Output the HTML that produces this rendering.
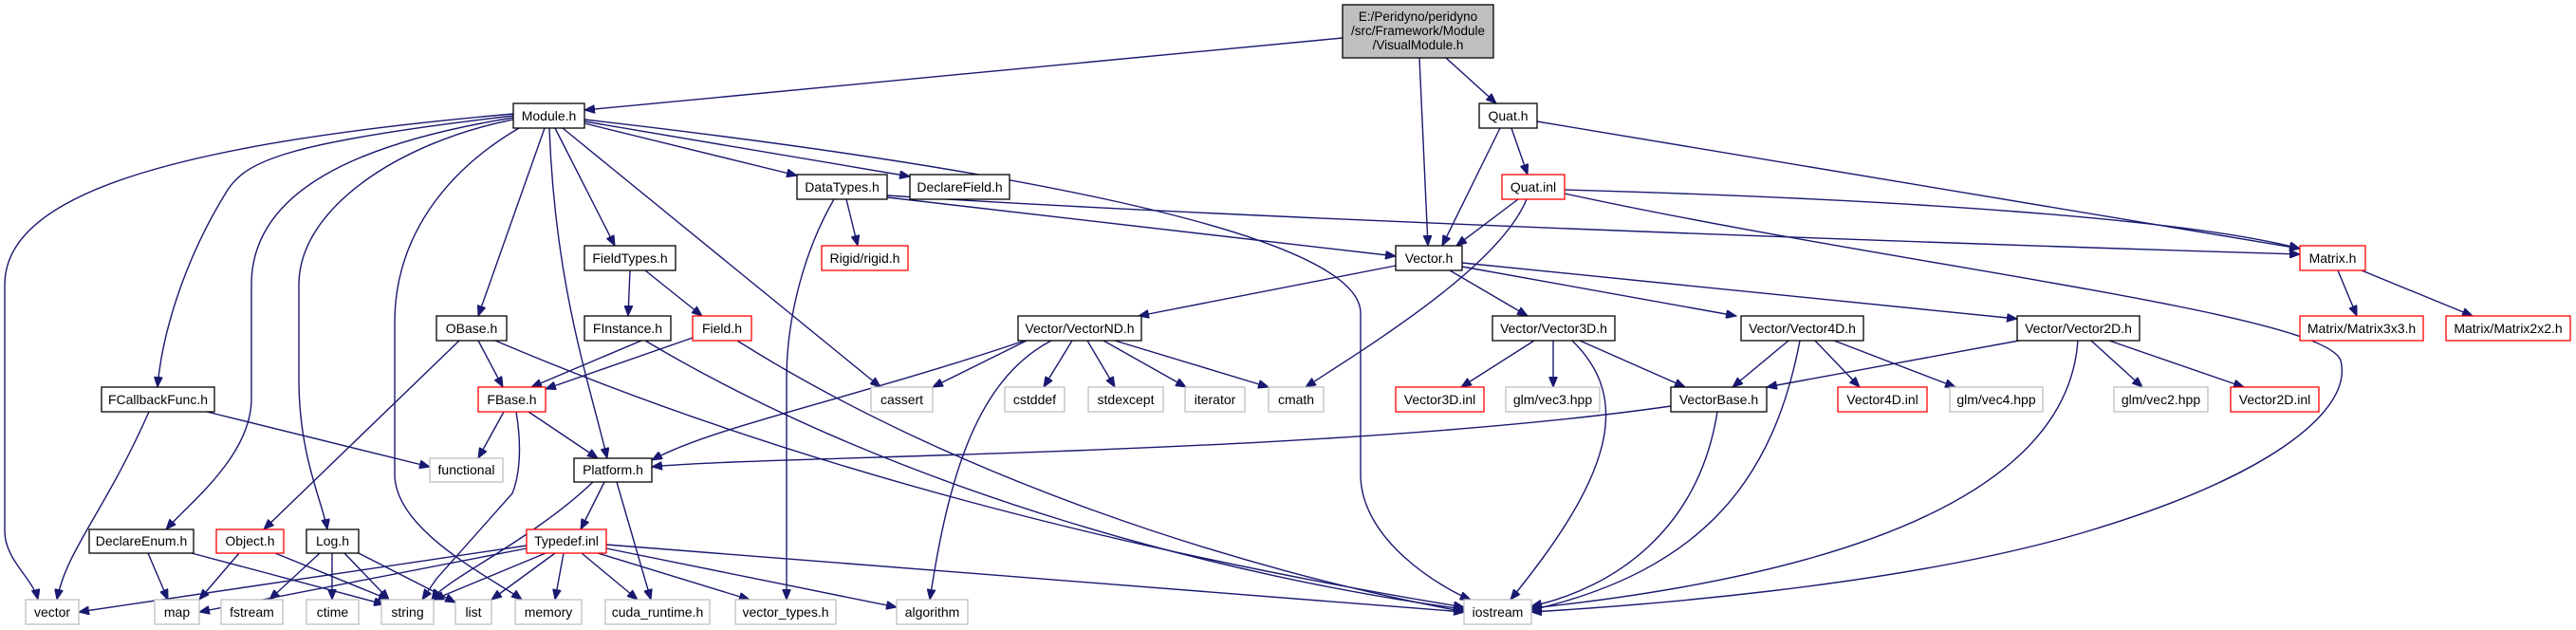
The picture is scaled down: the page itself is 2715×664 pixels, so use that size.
<!DOCTYPE html>
<html><head><meta charset="utf-8"><style>
html,body{margin:0;padding:0;background:#fff;}
svg{display:block;}
text{font-family:"Liberation Sans",Arial,sans-serif;font-size:14px;fill:#000;}
.e{fill:none;stroke:#191970;stroke-width:1.4;marker-end:url(#a);}
.b{fill:#fff;stroke:#000;stroke-width:1.3;}
.r{fill:#fff;stroke:#ff0000;stroke-width:1.3;}
.g{fill:#fff;stroke:#bfbfbf;stroke-width:1.3;}
</style></head><body>
<svg width="2715" height="664" viewBox="0 0 2715 664" xmlns="http://www.w3.org/2000/svg">
<defs><marker id="a" markerUnits="userSpaceOnUse" markerWidth="12" markerHeight="9" refX="11" refY="4.5" orient="auto"><path d="M0,0 L11,4.5 L0,9 z" fill="#191970" stroke="#191970"/></marker></defs>

<path class="e" d="M1415,40 L616,116"/>
<path class="e" d="M1496,61 L1505,259"/>
<path class="e" d="M1524,61 L1577,109"/>
<path class="e" d="M541,120 C200,150 5,200 5,300 L5,560 C5,590 35,610 40,632"/>
<path class="e" d="M541,122 C300,150 260,170 240,200 C190,280 170,360 166,408"/>
<path class="e" d="M541,124 C380,150 265,200 265,300 L265,420 C265,480 200,530 175,558"/>
<path class="e" d="M541,126 C420,150 315,220 315,300 L315,400 C315,480 340,530 345,558"/>
<path class="e" d="M547,135 C470,180 416,250 416,340 L416,500 C416,560 520,610 550,632"/>
<path class="e" d="M574,135 L504,333"/>
<path class="e" d="M579,135 C585,300 620,400 640,483"/>
<path class="e" d="M585,135 L648,259"/>
<path class="e" d="M593,135 L928,408"/>
<path class="e" d="M616,130 L840,185"/>
<path class="e" d="M616,128 L959,186"/>
<path class="e" d="M616,126 C1000,170 1434,240 1434,330 L1434,500 C1434,570 1520,620 1550,632"/>
<path class="e" d="M892,210 L904,259"/>
<path class="e" d="M879,210 C850,260 829,330 829,400 L829,632"/>
<path class="e" d="M935,208 L1471,270"/>
<path class="e" d="M935,206 C1300,230 2000,255 2424,268"/>
<path class="e" d="M1581,135 L1520,259"/>
<path class="e" d="M1593,135 L1610,184"/>
<path class="e" d="M1620,128 L2424,262"/>
<path class="e" d="M1600,210 L1535,259"/>
<path class="e" d="M1649,200 C2000,210 2300,230 2424,262"/>
<path class="e" d="M1609,210 C1580,280 1450,360 1376,408"/>
<path class="e" d="M1649,204 C2000,280 2450,330 2467,380 C2480,430 2400,500 2200,560 C2000,620 1700,640 1614,645"/>
<path class="e" d="M1471,280 L1200,333"/>
<path class="e" d="M1528,285 L1610,333"/>
<path class="e" d="M1541,281 L1830,333"/>
<path class="e" d="M1541,277 L2126,336"/>
<path class="e" d="M2464,285 L2484,333"/>
<path class="e" d="M2489,285 L2606,333"/>
<path class="e" d="M664,285 L662,333"/>
<path class="e" d="M680,285 L740,333"/>
<path class="e" d="M504,359 L530,408"/>
<path class="e" d="M484,359 L278,558"/>
<path class="e" d="M522,359 C900,520 1300,600 1543,640"/>
<path class="e" d="M676,359 L560,408"/>
<path class="e" d="M680,359 C950,520 1300,610 1543,642"/>
<path class="e" d="M730,356 L575,410"/>
<path class="e" d="M777,359 C1000,500 1300,600 1545,645"/>
<path class="e" d="M531,434 L504,483"/>
<path class="e" d="M557,434 L630,483"/>
<path class="e" d="M544,434 C550,470 548,500 540,520 L460,610 L445,632"/>
<path class="e" d="M218,434 L453,492"/>
<path class="e" d="M157,434 C110,540 70,580 60,632"/>
<path class="e" d="M637,508 L612,558"/>
<path class="e" d="M625,508 C560,570 470,610 455,632"/>
<path class="e" d="M650,508 L686,632"/>
<path class="e" d="M1080,359 C900,420 750,450 687,485"/>
<path class="e" d="M1082,359 L983,408"/>
<path class="e" d="M1108,359 C1030,400 1000,500 980,632"/>
<path class="e" d="M1130,359 L1100,408"/>
<path class="e" d="M1146,359 L1175,408"/>
<path class="e" d="M1163,359 L1250,408"/>
<path class="e" d="M1175,359 L1337,408"/>
<path class="e" d="M1617,359 L1540,408"/>
<path class="e" d="M1637,359 L1637,408"/>
<path class="e" d="M1665,359 L1776,408"/>
<path class="e" d="M1657,359 C1720,420 1700,500 1592,632"/>
<path class="e" d="M1885,359 L1826,408"/>
<path class="e" d="M1913,359 L1960,408"/>
<path class="e" d="M1933,359 L2061,408"/>
<path class="e" d="M1897,359 C1870,500 1800,600 1614,643"/>
<path class="e" d="M2128,359 L1862,408"/>
<path class="e" d="M2204,359 L2258,408"/>
<path class="e" d="M2223,359 L2365,408"/>
<path class="e" d="M2190,359 C2180,500 2000,600 1614,641"/>
<path class="e" d="M1761,428 C1400,480 800,480 687,492"/>
<path class="e" d="M1810,434 C1790,560 1700,620 1614,639"/>
<path class="e" d="M555,575 L83,645"/>
<path class="e" d="M555,578 L210,645"/>
<path class="e" d="M575,583 L457,632"/>
<path class="e" d="M585,583 L518,632"/>
<path class="e" d="M594,583 L585,632"/>
<path class="e" d="M613,583 L672,632"/>
<path class="e" d="M630,583 L790,632"/>
<path class="e" d="M639,578 L945,640"/>
<path class="e" d="M639,574 L1543,645"/>
<path class="e" d="M156,583 L177,632"/>
<path class="e" d="M202,583 L405,637"/>
<path class="e" d="M252,583 L210,632"/>
<path class="e" d="M290,583 L410,632"/>
<path class="e" d="M337,583 L284,632"/>
<path class="e" d="M350,583 L350,632"/>
<path class="e" d="M363,583 L410,632"/>
<path class="e" d="M378,583 L480,635"/>

<rect x="1415" y="5" width="159" height="56" fill="#bfbfbf" stroke="#000" stroke-width="1.3"/>
<g text-anchor="middle" style="font-size:13.5px">
<text x="1494.5" y="22" style="font-size:13.5px">E:/Peridyno/peridyno</text>
<text x="1494.5" y="37" style="font-size:13.5px">/src/Framework/Module</text>
<text x="1494.5" y="52" style="font-size:13.5px">/VisualModule.h</text>
</g>

<g text-anchor="middle">
<rect class="b" x="541" y="109" width="75" height="26"/><text x="578.5" y="127">Module.h</text>
<rect class="b" x="1559" y="109" width="61" height="26"/><text x="1589.5" y="127">Quat.h</text>
<rect class="b" x="840" y="184" width="95" height="26"/><text x="887.5" y="202">DataTypes.h</text>
<rect class="b" x="959" y="184" width="105" height="26"/><text x="1011.5" y="202">DeclareField.h</text>
<rect class="r" x="1583" y="184" width="66" height="26"/><text x="1616" y="202">Quat.inl</text>
<rect class="b" x="616" y="259" width="96" height="26"/><text x="664" y="277">FieldTypes.h</text>
<rect class="r" x="866" y="259" width="91" height="26"/><text x="911.5" y="277">Rigid/rigid.h</text>
<rect class="b" x="1471" y="259" width="70" height="26"/><text x="1506" y="277">Vector.h</text>
<rect class="r" x="2424" y="259" width="69" height="26"/><text x="2458.5" y="277">Matrix.h</text>
<rect class="b" x="460" y="333" width="74" height="26"/><text x="497" y="351">OBase.h</text>
<rect class="b" x="616" y="333" width="91" height="26"/><text x="661.5" y="351">FInstance.h</text>
<rect class="r" x="730" y="333" width="62" height="26"/><text x="761" y="351">Field.h</text>
<rect class="b" x="1073" y="333" width="130" height="26"/><text x="1138" y="351">Vector/VectorND.h</text>
<rect class="b" x="1573" y="333" width="129" height="26"/><text x="1637.5" y="351">Vector/Vector3D.h</text>
<rect class="b" x="1835" y="333" width="129" height="26"/><text x="1899.5" y="351">Vector/Vector4D.h</text>
<rect class="b" x="2126" y="333" width="129" height="26"/><text x="2190.5" y="351">Vector/Vector2D.h</text>
<rect class="r" x="2424" y="333" width="130" height="26"/><text x="2489" y="351">Matrix/Matrix3x3.h</text>
<rect class="r" x="2578" y="333" width="131" height="26"/><text x="2643.5" y="351">Matrix/Matrix2x2.h</text>
<rect class="b" x="107" y="408" width="119" height="26"/><text x="166.5" y="426">FCallbackFunc.h</text>
<rect class="r" x="504" y="408" width="71" height="26"/><text x="539.5" y="426">FBase.h</text>
<rect class="g" x="918" y="408" width="65" height="26"/><text x="950.5" y="426">cassert</text>
<rect class="g" x="1059" y="408" width="63" height="26"/><text x="1090.5" y="426">cstddef</text>
<rect class="g" x="1147" y="408" width="79" height="26"/><text x="1186.5" y="426">stdexcept</text>
<rect class="g" x="1249" y="408" width="63" height="26"/><text x="1280.5" y="426">iterator</text>
<rect class="g" x="1337" y="408" width="58" height="26"/><text x="1366" y="426">cmath</text>
<rect class="r" x="1471" y="408" width="93" height="26"/><text x="1517.5" y="426">Vector3D.inl</text>
<rect class="g" x="1587" y="408" width="99" height="26"/><text x="1636.5" y="426">glm/vec3.hpp</text>
<rect class="b" x="1761" y="408" width="101" height="26"/><text x="1811.5" y="426">VectorBase.h</text>
<rect class="r" x="1937" y="408" width="94" height="26"/><text x="1984" y="426">Vector4D.inl</text>
<rect class="g" x="2055" y="408" width="98" height="26"/><text x="2104" y="426">glm/vec4.hpp</text>
<rect class="g" x="2228" y="408" width="99" height="26"/><text x="2277.5" y="426">glm/vec2.hpp</text>
<rect class="r" x="2351" y="408" width="93" height="26"/><text x="2397.5" y="426">Vector2D.inl</text>
<rect class="g" x="453" y="483" width="77" height="25"/><text x="491.5" y="500">functional</text>
<rect class="b" x="605" y="483" width="82" height="25"/><text x="646" y="500">Platform.h</text>
<rect class="b" x="94" y="558" width="110" height="25"/><text x="149" y="575">DeclareEnum.h</text>
<rect class="r" x="228" y="558" width="71" height="25"/><text x="263.5" y="575">Object.h</text>
<rect class="b" x="323" y="558" width="55" height="25"/><text x="350.5" y="575">Log.h</text>
<rect class="r" x="555" y="558" width="84" height="25"/><text x="597" y="575">Typedef.inl</text>
<rect class="g" x="27" y="632" width="56" height="26"/><text x="55" y="650">vector</text>
<rect class="g" x="163" y="632" width="47" height="26"/><text x="186.5" y="650">map</text>
<rect class="g" x="233" y="632" width="65" height="26"/><text x="265.5" y="650">fstream</text>
<rect class="g" x="323" y="632" width="55" height="26"/><text x="350.5" y="650">ctime</text>
<rect class="g" x="402" y="632" width="55" height="26"/><text x="429.5" y="650">string</text>
<rect class="g" x="480" y="632" width="38" height="26"/><text x="499" y="650">list</text>
<rect class="g" x="543" y="632" width="70" height="26"/><text x="578" y="650">memory</text>
<rect class="g" x="638" y="632" width="110" height="26"/><text x="693" y="650">cuda_runtime.h</text>
<rect class="g" x="775" y="632" width="106" height="26"/><text x="828" y="650">vector_types.h</text>
<rect class="g" x="945" y="632" width="75" height="26"/><text x="982.5" y="650">algorithm</text>
<rect class="g" x="1543" y="632" width="71" height="26"/><text x="1578.5" y="650">iostream</text>
</g>
</svg>
</body></html>
